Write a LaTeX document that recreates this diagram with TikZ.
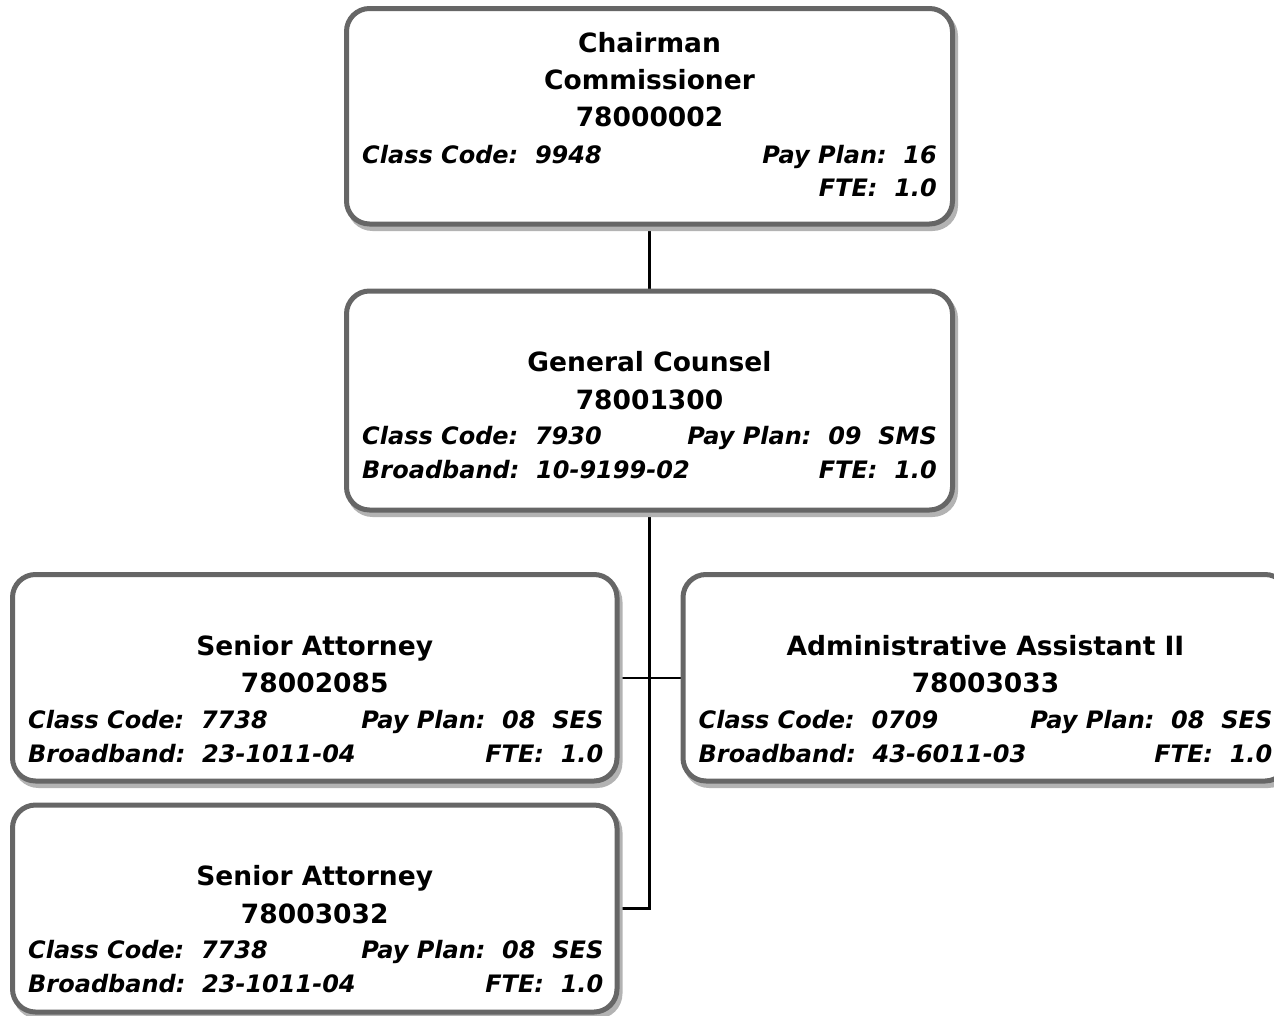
\documentclass[tikz,border=0pt]{standalone}
\usepackage{fontspec}
\setmainfont{DejaVu Sans}[
  BoldFont={DejaVu Sans Bold},
  ItalicFont={DejaVu Sans Oblique},
  BoldItalicFont={DejaVu Sans Bold Oblique}]
\usetikzlibrary{calc}
\definecolor{framegray}{HTML}{666666}
\definecolor{shadegray}{HTML}{B3B3B3}
\pgfdeclarelayer{links}
\pgfdeclarelayer{shades}
\pgfsetlayers{links,shades,main}
\tikzset{
  orgbox/.style={rectangle, draw=framegray, line width=5pt, fill=white,
    rounded corners=23pt, inner sep=0pt, outer sep=0pt},
  orgshade/.style={rectangle, draw=shadegray, line width=5pt, fill=shadegray,
    rounded corners=23pt, inner sep=0pt, outer sep=0pt},
  title/.style={font=\fontsize{26.5}{30}\selectfont\bfseries, inner sep=0pt, anchor=base},
  infoL/.style={font=\fontsize{24}{28}\selectfont\bfseries\itshape, inner sep=0pt, anchor=base west},
  infoR/.style={font=\fontsize{24}{28}\selectfont\bfseries\itshape, inner sep=0pt, anchor=base east},
  link/.style={line width=2.5pt, black},
}
\begin{document}
\begin{tikzpicture}[x=1pt, y=-1pt]
\useasboundingbox (0,0) rectangle (1274,1015);

% position boxes
\node[orgbox, minimum width=606pt, minimum height=215.5pt] (A) at (649.5,116.25) {};
\node[orgbox, minimum width=606pt, minimum height=219pt]   (B) at (649.5,400.5) {};
\node[orgbox, minimum width=604.5pt, minimum height=206.5pt] (C) at (314.75,677.75) {};
\node[orgbox, minimum width=605pt, minimum height=206.5pt] (D) at (985.5,677.75) {};
\node[orgbox, minimum width=604.5pt, minimum height=207pt] (E) at (314.75,908.5) {};

% drop shadows
\begin{pgfonlayer}{shades}
\node[orgshade, minimum width=606pt, minimum height=215.5pt] (As) at ($(A)+(3,4.5)$) {};
\node[orgshade, minimum width=606pt, minimum height=219pt]   (Bs) at ($(B)+(3,4.5)$) {};
\node[orgshade, minimum width=604.5pt, minimum height=206.5pt] (Cs) at ($(C)+(3,4.5)$) {};
\node[orgshade, minimum width=605pt, minimum height=206.5pt] (Ds) at ($(D)+(3,4.5)$) {};
\node[orgshade, minimum width=604.5pt, minimum height=207pt] (Es) at ($(E)+(3,4.5)$) {};
\end{pgfonlayer}

% reporting lines
\begin{pgfonlayer}{links}
\draw[link] (A.south) -- (B.north);
\draw[link] (B.south) |- (E.east);
\draw[link] (C.east) -- (D.west);
\end{pgfonlayer}

% Chairman
\node[title] (A1) at ($(A.north)+(0,44)$) {Chairman};
\node[title] (A2) at ($(A.north)+(0,81)$) {Commissioner};
\node[title] (A3) at ($(A.north)+(0,118)$) {78000002};
\node[infoL] (A4) at ($(A.north west)+(15.5,155)$) {Class Code:\ \ 9948};
\node[infoR] (A5) at ($(A.north east)+(-15.5,155)$) {Pay Plan:\ \ 16};
\node[infoR] (A6) at ($(A.north east)+(-15.5,187.5)$) {FTE:\ \ 1.0};

% General Counsel
\node[title] (B1) at ($(B.north)+(0,80.5)$) {General Counsel};
\node[title] (B2) at ($(B.north)+(0,118)$) {78001300};
\node[infoL] (B3) at ($(B.north west)+(15.5,153.5)$) {Class Code:\ \ 7930};
\node[infoR] (B4) at ($(B.north east)+(-15.5,153.5)$) {Pay Plan:\ \ 09\ \ SMS};
\node[infoL] (B5) at ($(B.north west)+(15.5,187.5)$) {Broadband:\ \ 10-9199-02};
\node[infoR] (B6) at ($(B.north east)+(-15.5,187.5)$) {FTE:\ \ 1.0};

% Senior Attorney 78002085
\node[title] (C1) at ($(C.north)+(0,80.5)$) {Senior Attorney};
\node[title] (C2) at ($(C.north)+(0,118)$) {78002085};
\node[infoL] (C3) at ($(C.north west)+(15.5,153.5)$) {Class Code:\ \ 7738};
\node[infoR] (C4) at ($(C.north east)+(-13.5,153.5)$) {Pay Plan:\ \ 08\ \ SES};
\node[infoL] (C5) at ($(C.north west)+(15.5,187.5)$) {Broadband:\ \ 23-1011-04};
\node[infoR] (C6) at ($(C.north east)+(-13.5,187.5)$) {FTE:\ \ 1.0};

% Administrative Assistant II
\node[title] (D1) at ($(D.north)+(0,80.5)$) {Administrative Assistant II};
\node[title] (D2) at ($(D.north)+(0,118)$) {78003033};
\node[infoL] (D3) at ($(D.north west)+(15.5,153.5)$) {Class Code:\ \ 0709};
\node[infoR] (D4) at ($(D.north east)+(-15.5,153.5)$) {Pay Plan:\ \ 08\ \ SES};
\node[infoL] (D5) at ($(D.north west)+(15.5,187.5)$) {Broadband:\ \ 43-6011-03};
\node[infoR] (D6) at ($(D.north east)+(-15.5,187.5)$) {FTE:\ \ 1.0};

% Senior Attorney 78003032
\node[title] (E1) at ($(E.north)+(0,80.5)$) {Senior Attorney};
\node[title] (E2) at ($(E.north)+(0,118)$) {78003032};
\node[infoL] (E3) at ($(E.north west)+(15.5,153.5)$) {Class Code:\ \ 7738};
\node[infoR] (E4) at ($(E.north east)+(-13.5,153.5)$) {Pay Plan:\ \ 08\ \ SES};
\node[infoL] (E5) at ($(E.north west)+(15.5,187.5)$) {Broadband:\ \ 23-1011-04};
\node[infoR] (E6) at ($(E.north east)+(-13.5,187.5)$) {FTE:\ \ 1.0};
\end{tikzpicture}
\end{document}
